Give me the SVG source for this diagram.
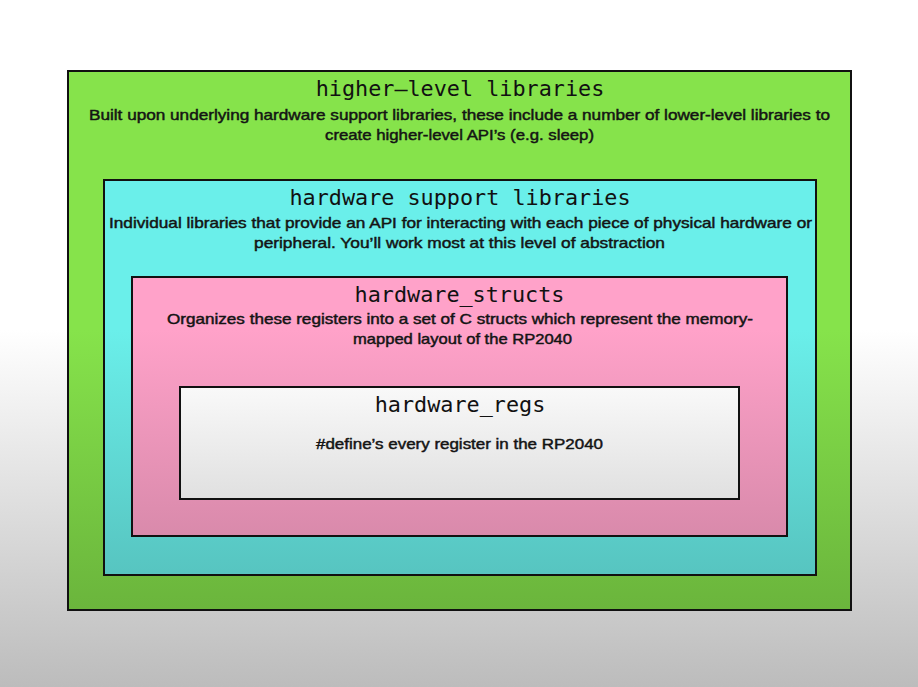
<svg xmlns="http://www.w3.org/2000/svg" width="918" height="687" viewBox="0 0 918 687">
  <defs>
    <linearGradient id="gBg" gradientUnits="userSpaceOnUse" x1="0" y1="330" x2="0" y2="687">
      <stop offset="0" stop-color="#ffffff"/>
      <stop offset="1" stop-color="#bcbcbc"/>
    </linearGradient>
    <linearGradient id="gGreen" gradientUnits="userSpaceOnUse" x1="0" y1="330" x2="0" y2="687">
      <stop offset="0" stop-color="#86e34b"/>
      <stop offset="1" stop-color="#63a838"/>
    </linearGradient>
    <linearGradient id="gCyan" gradientUnits="userSpaceOnUse" x1="0" y1="330" x2="0" y2="687">
      <stop offset="0" stop-color="#6aefea"/>
      <stop offset="1" stop-color="#4eb1ad"/>
    </linearGradient>
    <linearGradient id="gPink" gradientUnits="userSpaceOnUse" x1="0" y1="330" x2="0" y2="687">
      <stop offset="0" stop-color="#ffa2c9"/>
      <stop offset="1" stop-color="#bd7895"/>
    </linearGradient>
    <linearGradient id="gWhite" x1="0" y1="0" x2="0" y2="1">
      <stop offset="0" stop-color="#f9f9f9"/>
      <stop offset="1" stop-color="#e0e0e0"/>
    </linearGradient>
  </defs>
  <style>
    .box { stroke: #111; stroke-width: 2; }
    .title { font-family: "DejaVu Sans Mono", "Liberation Mono", monospace; font-size: 21.8px; fill: #111; text-anchor: middle; }
    .body { font-family: "Liberation Sans", Arial, sans-serif; font-size: 14.5px; fill: #141414; stroke: #141414; stroke-width: 0.45; text-anchor: middle; }
  </style>

  <rect x="0" y="0" width="918" height="687" fill="url(#gBg)"/>

  <g id="higher-level-libraries">
    <rect class="box" x="68" y="71" width="783" height="539" fill="url(#gGreen)"/>
    <text class="title" x="460" y="96">higher—level libraries</text>
    <text class="body" x="459.5" y="120" textLength="741" lengthAdjust="spacingAndGlyphs">Built upon underlying hardware support libraries, these include a number of lower-level libraries to</text>
    <text class="body" x="459.5" y="140" textLength="269" lengthAdjust="spacingAndGlyphs">create higher-level API’s (e.g. sleep)</text>
  </g>

  <g id="hardware-support-libraries">
    <rect class="box" x="104" y="180" width="712" height="395" fill="url(#gCyan)"/>
    <text class="title" x="460" y="205">hardware support libraries</text>
    <text class="body" x="460.5" y="228" textLength="703" lengthAdjust="spacingAndGlyphs">Individual libraries that provide an API for interacting with each piece of physical hardware or</text>
    <text class="body" x="459.5" y="248" textLength="411" lengthAdjust="spacingAndGlyphs">peripheral. You’ll work most at this level of abstraction</text>
  </g>

  <g id="hardware-structs">
    <rect class="box" x="132" y="277" width="655" height="259" fill="url(#gPink)"/>
    <text class="title" x="459.5" y="302">hardware_structs</text>
    <text class="body" x="460" y="324" textLength="586" lengthAdjust="spacingAndGlyphs">Organizes these registers into a set of C structs which represent the memory-</text>
    <text class="body" x="462.5" y="344" textLength="219" lengthAdjust="spacingAndGlyphs">mapped layout of the RP2040</text>
  </g>

  <g id="hardware-regs">
    <rect class="box" x="180" y="387" width="559" height="112" fill="url(#gWhite)"/>
    <text class="title" x="460" y="412">hardware_regs</text>
    <text class="body" x="459.5" y="449" textLength="287" lengthAdjust="spacingAndGlyphs">#define’s every register in the RP2040</text>
  </g>
</svg>
